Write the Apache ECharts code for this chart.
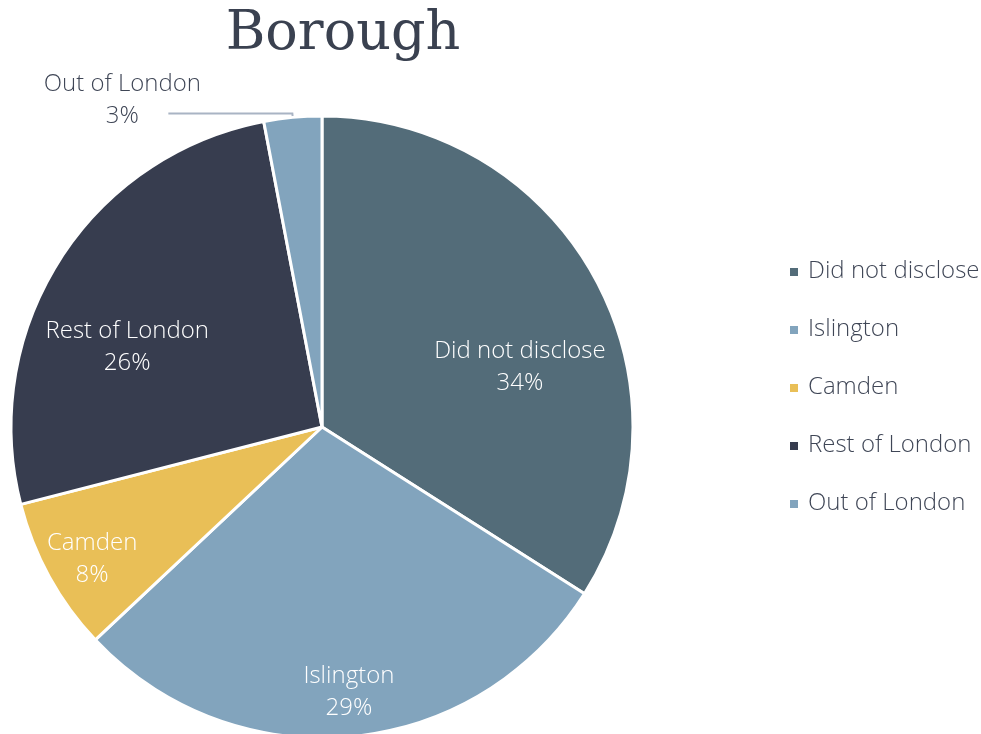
<!DOCTYPE html>
<html>
<head>
<meta charset="utf-8">
<script src="https://cdn.jsdelivr.net/npm/echarts@6/dist/echarts.min.js"></script>
<style>
html,body{margin:0;padding:0;background:#fff;}
#main{width:981px;height:734px;}
</style>
</head>
<body>
<div id="main"></div>
<script>
// 数据
var categories = ['Did not disclose', 'Islington', 'Camden', 'Rest of London', 'Out of London'];
var shares = [34, 29, 8, 26, 3];
var colors = ['#536c79', '#82a4bd', '#e9bf57', '#373d4f', '#82a4bd'];

// 标签微调 (Excel 风格的位置)
var labelShift = [[59, 17], [12, 108], [-91, 56], [-61, 6], [49, -13]];

var textFont = "'Open Sans Light', 'Open Sans'";

var chart = echarts.init(document.getElementById('main'));

var seriesData = [];
for (var i = 0; i < categories.length; i++) {
    var item = {
        name: categories[i],
        value: shares[i],
        itemStyle: { color: colors[i] }
    };
    if (i === 4) {
        item.label = {
            position: 'outside',
            color: '#3f4656',
            formatter: '{a|{b}}\n{a|{d}%}',
            rich: {
                a: { width: 180, align: 'center', fontSize: 24, lineHeight: 32, color: '#3f4656',
                     fontFamily: textFont, fontWeight: 300 }
            }
        };
        item.labelLine = {
            show: true,
            length: 4,
            length2: 124,
            lineStyle: { color: '#a9b4c4', width: 2 }
        };
    }
    seriesData.push(item);
}

var option = {
    backgroundColor: '#fff',
    animation: false,
    title: {
        text: 'Borough',
        left: 338,
        top: 3,
        textAlign: 'center',
        textStyle: {
            fontFamily: 'DejaVu Serif',
            fontSize: 54,
            fontWeight: 'normal',
            color: '#3a4150'
        }
    },
    legend: {
        orient: 'vertical',
        left: 788,
        top: 259,
        padding: 0,
        icon: 'rect',
        itemWidth: 10,
        itemHeight: 10,
        itemGap: 32,
        data: categories,
        textStyle: {
            fontFamily: textFont,
            fontWeight: 300,
            fontSize: 24,
            lineHeight: 26,
            color: '#3f4656',
            padding: [0, 0, 0, 4]
        }
    },
    series: [{
        type: 'pie',
        center: [322, 427],
        radius: 311,
        startAngle: 90,
        clockwise: true,
        avoidLabelOverlap: false,
        itemStyle: {
            borderColor: '#fff',
            borderWidth: 3
        },
        label: {
            position: 'inside',
            formatter: '{b}\n{d}%',
            color: '#fff',
            fontFamily: textFont,
            fontWeight: 300,
            fontSize: 24,
            lineHeight: 32
        },
        labelLine: { show: false },
        labelLayout: function (p) {
            var s = labelShift[p.dataIndex];
            return { dx: s[0], dy: s[1] };
        },
        data: seriesData
    }]
};
chart.setOption(option);
</script>
</body>
</html>
